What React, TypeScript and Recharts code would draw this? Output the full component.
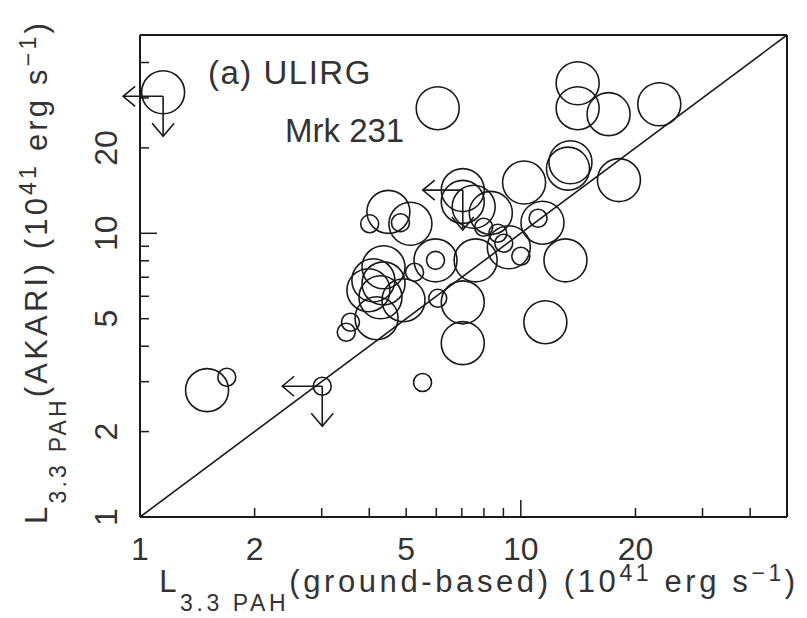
import { ScatterChart, Scatter, XAxis, YAxis, ReferenceLine } from "recharts";

// large-aperture sources (10^41 erg/s)
const bigX = [1.15, 6.05, 14.1, 14.1, 17.0, 23.1, 13.5, 13.3, 10.2, 18.1, 7.04, 7.04, 4.49, 5.13, 8.34, 7.52, 11.4, 9.3, 5.97, 7.61, 13.1, 4.36, 4.1, 4.36, 3.98, 4.28, 4.92, 7.04, 7.04, 11.6, 4.18, 1.5];
const bigY = [31.4, 27.6, 33.8, 27.6, 26.3, 28.5, 17.8, 16.9, 15.1, 15.4, 14.2, 12.9, 11.9, 10.8, 11.8, 12.4, 10.9, 8.93, 8.03, 8.03, 8.03, 7.59, 6.83, 6.66, 6.3, 5.95, 5.81, 5.71, 4.1, 4.86, 5.02, 2.8];

// small-aperture sources
const smallX = [4.01, 4.83, 11.1, 10.0, 5.97, 5.26, 6.05, 3.57, 3.48, 5.52, 1.69, 3.01, 7.99, 8.7, 9.02];
const smallY = [10.8, 10.9, 11.3, 8.3, 8.03, 7.29, 5.9, 4.86, 4.48, 2.98, 3.11, 2.89, 10.5, 10.0, 9.22];

// upper limits in both axes
const limitX = [1.15, 7.04, 3.01];
const limitY = [30.4, 14.2, 2.89];

const axisTicks = [1, 2, 3, 4, 5, 6, 7, 8, 9, 10, 20, 30, 40];
const tickLabels = [1, 2, 5, 10, 20];
const domain = [1, 50];

const bigPts = bigX.map((x, i) => ({ x, y: bigY[i] }));
const smallPts = smallX.map((x, i) => ({ x, y: smallY[i] }));
const limitPts = limitX.map((x, i) => ({ x, y: limitY[i] }));

const INK = "#1a1a1a";
const TXT = "#333";
const FONT = "'Liberation Sans', Arial, sans-serif";

const tickLen = (v: number) => (v === 1 || v === 10 ? 17 : 9);

const BottomTick = ({ x, y, payload }: any) => {
  const v = payload.value;
  return (
    <g>
      <line x1={x} y1={y} x2={x} y2={y - tickLen(v)} stroke={INK} strokeWidth={1.5} />
      {tickLabels.includes(v) && (
        <text x={x} y={y + 43} textAnchor="middle" fontSize={32} fontFamily={FONT} fill={TXT}>
          {v}
        </text>
      )}
    </g>
  );
};

const TopTick = ({ x, y, payload }: any) => (
  <line x1={x} y1={y} x2={x} y2={y + tickLen(payload.value)} stroke={INK} strokeWidth={1.5} />
);

const LeftTick = ({ x, y, payload }: any) => {
  const v = payload.value;
  const tx = x - 23;
  return (
    <g>
      <line x1={x} y1={y} x2={x + tickLen(v)} y2={y} stroke={INK} strokeWidth={1.5} />
      {tickLabels.includes(v) && (
        <text
          x={tx}
          y={y}
          textAnchor="middle"
          fontSize={32}
          fontFamily={FONT}
          fill={TXT}
          transform={`rotate(-90 ${tx} ${y})`}
        >
          {v}
        </text>
      )}
    </g>
  );
};

const RightTick = ({ x, y, payload }: any) => (
  <line x1={x} y1={y} x2={x - tickLen(payload.value)} y2={y} stroke={INK} strokeWidth={1.5} />
);

const titleParts = (inner: string) => (
  <>
    L<tspan dy={19} fontSize={23}>3.3 PAH</tspan>
    <tspan dy={-19}>{`(${inner})  (10`}</tspan>
    <tspan dy={-11} fontSize={23}>41</tspan>
    <tspan dy={11}>{"  erg  s"}</tspan>
    <tspan dy={-11} fontSize={23}>−1</tspan>
    <tspan dy={11}>)</tspan>
  </>
);

const XTitle = ({ viewBox }: any) => {
  const cx = viewBox.x + 339;
  const by = viewBox.y + 75;
  return (
    <text x={cx} y={by} textAnchor="middle" fontSize={31} letterSpacing={3.6} fontFamily={FONT} fill={TXT}>
      {titleParts("ground-based")}
    </text>
  );
};

const YTitle = ({ viewBox }: any) => {
  const bx = 47;
  const cy = viewBox.y + 237;
  return (
    <text
      x={bx}
      y={cy}
      textAnchor="middle"
      fontSize={31}
      letterSpacing={3.2}
      fontFamily={FONT}
      fill={TXT}
      transform={`rotate(-90 ${bx} ${cy})`}
    >
      {titleParts("AKARI")}
    </text>
  );
};

const Notes = ({ viewBox }: any) => {
  const x0 = viewBox.x;
  const y0 = viewBox.y;
  return (
    <g fontFamily={FONT} fontSize={33} fill={TXT}>
      <text x={x0 + 68} y={y0 + 50} letterSpacing={1.5}>(a) ULIRG</text>
      <text x={x0 + 145} y={y0 + 108}>Mrk 231</text>
    </g>
  );
};

const BigRing = ({ cx, cy }: any) => (
  <circle cx={cx} cy={cy} r={21.5} fill="none" stroke={INK} strokeWidth={1.6} />
);

const SmallRing = ({ cx, cy }: any) => (
  <circle cx={cx} cy={cy} r={9} fill="none" stroke={INK} strokeWidth={1.6} />
);

// arrows pointing left and down from an upper-limit point
const LimitArrows = ({ cx, cy }: any) => {
  const L = 40;
  return (
    <g stroke={INK} strokeWidth={1.6} fill="none">
      <line x1={cx} y1={cy} x2={cx - L} y2={cy} />
      <polyline points={`${cx - L + 12},${cy - 10} ${cx - L},${cy} ${cx - L + 12},${cy + 10}`} />
      <line x1={cx} y1={cy} x2={cx} y2={cy + L} />
      <polyline points={`${cx - 11},${cy + L - 13} ${cx},${cy + L} ${cx + 11},${cy + L - 13}`} />
    </g>
  );
};

const App = () => {
  return (
    <div style={{ position: "fixed", left: 0, top: 0, background: "#fff" }}>
      <ScatterChart width={807} height={618} margin={{ top: 34, right: 19, bottom: 0, left: 0 }}>
        <XAxis
          dataKey="x"
          type="number"
          scale="log"
          domain={domain}
          ticks={axisTicks}
          interval={0}
          tickSize={0}
          tickMargin={0}
          tick={(p: any) => <BottomTick {...p} />}
          axisLine={{ stroke: INK, strokeWidth: 2 }}
          height={101}
          label={{ content: (p: any) => <XTitle {...p} /> }}
        />
        <XAxis
          xAxisId="top"
          orientation="top"
          dataKey="x"
          type="number"
          scale="log"
          domain={domain}
          ticks={axisTicks}
          interval={0}
          tickSize={0}
          tickMargin={0}
          tick={(p: any) => <TopTick {...p} />}
          axisLine={{ stroke: INK, strokeWidth: 2 }}
          height={1}
          label={{ content: (p: any) => <Notes {...p} /> }}
        />
        <YAxis
          dataKey="y"
          type="number"
          scale="log"
          domain={domain}
          ticks={axisTicks}
          interval={0}
          tickSize={0}
          tickMargin={0}
          tick={(p: any) => <LeftTick {...p} />}
          axisLine={{ stroke: INK, strokeWidth: 2 }}
          width={140}
          label={{ content: (p: any) => <YTitle {...p} /> }}
        />
        <YAxis
          yAxisId="right"
          orientation="right"
          dataKey="y"
          type="number"
          scale="log"
          domain={domain}
          ticks={axisTicks}
          interval={0}
          tickSize={0}
          tickMargin={0}
          tick={(p: any) => <RightTick {...p} />}
          axisLine={{ stroke: INK, strokeWidth: 2 }}
          width={1}
        />
        <ReferenceLine
          segment={[
            { x: 1, y: 1 },
            { x: 50, y: 50 },
          ]}
          stroke={INK}
          strokeWidth={1.6}
        />
        <Scatter data={bigPts} shape={(p: any) => <BigRing {...p} />} isAnimationActive={false} />
        <Scatter data={smallPts} shape={(p: any) => <SmallRing {...p} />} isAnimationActive={false} />
        <Scatter data={limitPts} shape={(p: any) => <LimitArrows {...p} />} isAnimationActive={false} />
      </ScatterChart>
    </div>
  );
};

export default App;
